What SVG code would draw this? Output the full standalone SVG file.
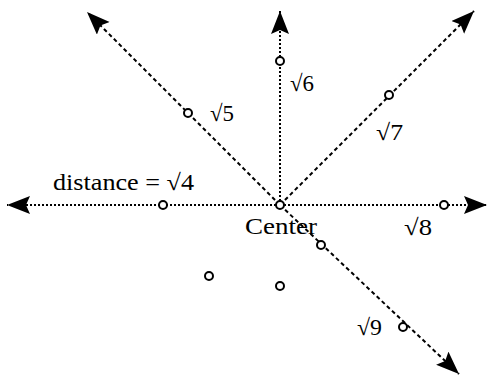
<svg xmlns="http://www.w3.org/2000/svg" width="489" height="386" viewBox="0 0 489 386">
<style>
.dot{stroke:#000;stroke-width:2;stroke-dasharray:2 2;fill:none}
.dash{stroke:#000;stroke-width:2;stroke-dasharray:4 3;fill:none}
.pt{fill:#fff;stroke:#000;stroke-width:2}
text{font-family:"Liberation Serif","DejaVu Serif",serif;font-size:23px;fill:#000}
</style>
<defs>
<marker id="ah" markerUnits="userSpaceOnUse" markerWidth="26" markerHeight="20" refX="23" refY="9" orient="auto">
<path d="M0,0 L23,9 L0,18 L4,9 Z" fill="#000"/>
</marker>
</defs>
<g id="connectors">
<line class="dot" x1="280" y1="205" x2="7" y2="205" marker-end="url(#ah)"/>
<line class="dot" x1="280" y1="205" x2="487" y2="205" marker-end="url(#ah)"/>
<line class="dot" x1="280" y1="205" x2="280" y2="11" marker-end="url(#ah)"/>
<line class="dash" x1="280" y1="205" x2="87" y2="12" marker-end="url(#ah)"/>
<line class="dash" x1="280" y1="205" x2="474" y2="11" marker-end="url(#ah)"/>
<line class="dash" x1="280" y1="205" x2="459" y2="374" marker-end="url(#ah)"/>
</g>
<g id="center"><circle class="pt" cx="280" cy="205" r="4"/><text x="245" y="234" textLength="72" lengthAdjust="spacingAndGlyphs">Center</text></g>
<g id="p4"><circle class="pt" cx="163" cy="205" r="4"/><text x="53" y="190" textLength="141" lengthAdjust="spacingAndGlyphs">distance = √4</text></g>
<g id="p5"><circle class="pt" cx="188" cy="113" r="4"/><text x="210" y="121" textLength="24" lengthAdjust="spacingAndGlyphs">√5</text></g>
<g id="p6"><circle class="pt" cx="280" cy="61" r="4"/><text x="290" y="91" textLength="24" lengthAdjust="spacingAndGlyphs">√6</text></g>
<g id="p7"><circle class="pt" cx="389" cy="95" r="4"/><text x="376" y="140" textLength="27" lengthAdjust="spacingAndGlyphs">√7</text></g>
<g id="p8"><circle class="pt" cx="444" cy="205" r="4"/><text x="404" y="235" textLength="28" lengthAdjust="spacingAndGlyphs">√8</text></g>
<g id="p9a"><circle class="pt" cx="321" cy="245" r="4"/></g>
<g id="p9"><circle class="pt" cx="403" cy="327" r="4"/><text x="357" y="335" textLength="25" lengthAdjust="spacingAndGlyphs">√9</text></g>
<g id="q1"><circle class="pt" cx="209" cy="276" r="4"/></g>
<g id="q2"><circle class="pt" cx="280" cy="286" r="4"/></g>
</svg>
